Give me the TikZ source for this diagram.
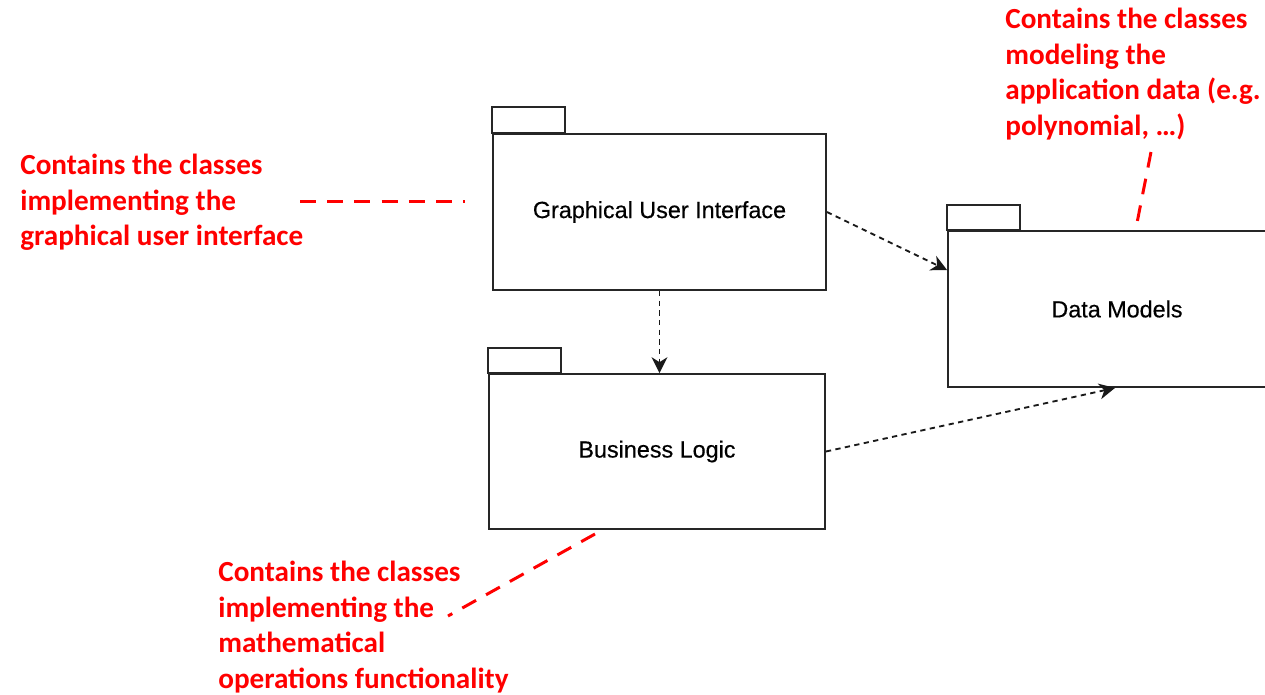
\documentclass[tikz,border=0pt]{standalone}
\usepackage{fontspec}
\setmainfont{Liberation Sans}[FakeBold=0.4]
\newfontfamily\notefont{Carlito}
\usetikzlibrary{arrows.meta,calc}

\begin{document}
\begin{tikzpicture}[x=0.02cm,y=-0.02cm,
  pkg/.style={draw=black!85, line width=1.1pt, inner sep=0pt,
    font=\fontsize{13.3}{16}\selectfont},
  tabbox/.style={draw=black!85, line width=1.1pt},
  dep/.style={draw=black!90, line width=1.05pt, dash pattern=on 3pt off 2.5pt,
    -{Stealth[length=9pt,width=9pt,inset=2.8pt]}},
  note/.style={text=red, align=left, anchor=north west, inner sep=0pt,
    font=\notefont\bfseries\fontsize{16.6}{20.2}\selectfont},
  notelink/.style={draw=red, line width=1.7pt, dash pattern=on 9pt off 6.5pt}]

\useasboundingbox (0,0) rectangle (1265,694);

% packages: body with its name, plus the tab on the upper left
\node[pkg, minimum width=6.66cm, minimum height=3.12cm] (gui) at (659.5,212) {Graphical User Interface};
\node[pkg, minimum width=6.72cm, minimum height=3.10cm] (bl) at (657,451.5) {Business Logic};
\node[pkg, minimum width=6.76cm, minimum height=3.12cm] (dm) at (1117,309) {Data Models};

\draw[tabbox] (gui.north west) rectangle ++(73,-26);
\draw[tabbox] (bl.north west) rectangle ++(73,-25);
\draw[tabbox] (dm.north west) rectangle ++(73,-25);

% dependencies
\draw[dep] (gui.east) -- ($(dm.west)+(0,-39)$);
\draw[dep] (gui.south) -- (gui.south |- bl.north);
\draw[dep] (bl.east) -- ($(dm.south)+(-2,0)$);

% notes
\node[note] (n1) at (20,154) {Contains the classes\\implementing the\\graphical user interface};
\node[note] (n2) at (1005,8) {Contains the classes\\modeling the\\application data (e.g.\\polynomial, \dots)};
\node[note] (n3) at (218,561) {Contains the classes\\implementing the\\mathematical\\operations functionality};

\coordinate (n1a) at (300,201);
\coordinate (n1b) at (465,201);
\coordinate (n2a) at (1151,152);
\coordinate (n2b) at (1136,228);
\coordinate (n3a) at (595,534);
\coordinate (n3b) at (448,616);

\draw[notelink] (n1a) -- (n1b);
\draw[notelink] (n2a) -- (n2b);
\draw[notelink] (n3a) -- (n3b);
\end{tikzpicture}
\end{document}
